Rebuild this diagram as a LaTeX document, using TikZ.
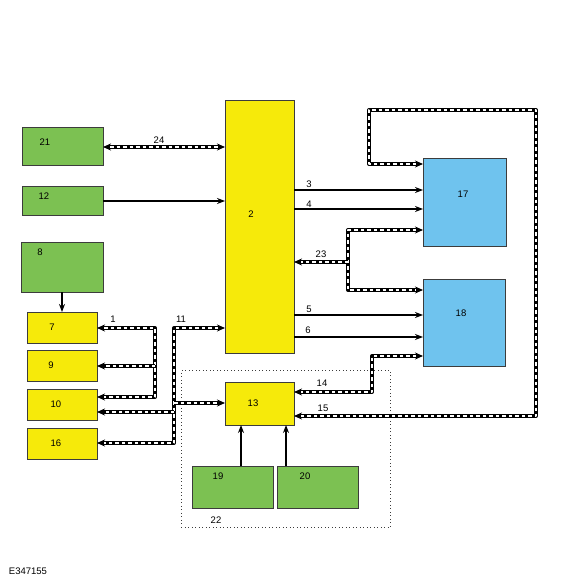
\documentclass[tikz,border=0pt]{standalone}
\usepackage{fontspec}
\setmainfont{Liberation Sans}
\usetikzlibrary{arrows.meta}
\definecolor{boxgreen}{HTML}{7CC152}
\definecolor{boxyellow}{HTML}{F6EA0A}
\definecolor{boxblue}{HTML}{6FC3EE}
\definecolor{boxline}{HTML}{3C3C3C}

\begin{document}
\begin{tikzpicture}[x=1pt,y=-1pt,
  blk/.style={draw=boxline, line width=0.9pt, anchor=north west, inner sep=0pt, outer sep=0pt},
  gblk/.style={blk, fill=boxgreen},
  yblk/.style={blk, fill=boxyellow},
  bblk/.style={blk, fill=boxblue},
  num/.style={font=\fontsize{9.5}{11}\selectfont, inner sep=0pt},
  sig/.style={line width=1.8pt, -{Stealth[length=8pt,width=6pt]}},
  bus/.style={line width=4pt, line join=round, {Stealth[length=8pt,width=7pt]}-{Stealth[length=8pt,width=7pt]},
    postaction={draw=white, line width=1.4pt, dash pattern=on 3.5pt off 3pt, -, shorten <=7pt, shorten >=7pt}},
  busto/.style={line width=4pt, line join=round, -{Stealth[length=8pt,width=7pt]},
    postaction={draw=white, line width=1.4pt, dash pattern=on 3.5pt off 3pt, -, shorten >=7pt}}]
\useasboundingbox (0,0) rectangle (580,580);

\node[draw=boxline, line width=0.9pt, dash pattern=on 0.9pt off 2.6pt, anchor=north west, inner sep=0pt,
  minimum width=209pt, minimum height=157pt] (b22) at (181,370) {};

\node[gblk, minimum width=81pt, minimum height=38pt] (b21) at (22,127) {};
\node[gblk, minimum width=81pt, minimum height=29pt] (b12) at (22,186) {};
\node[gblk, minimum width=82pt, minimum height=50pt] (b8) at (21,242) {};
\node[yblk, minimum width=70pt, minimum height=31pt] (b7) at (27,312) {};
\node[yblk, minimum width=70pt, minimum height=31pt] (b9) at (27,350) {};
\node[yblk, minimum width=70pt, minimum height=31pt] (b10) at (27,389) {};
\node[yblk, minimum width=70pt, minimum height=31pt] (b16) at (27,428) {};
\node[yblk, minimum width=69pt, minimum height=253pt] (b2) at (225,100) {};
\node[yblk, minimum width=69pt, minimum height=43pt] (b13) at (225,382) {};
\node[bblk, minimum width=83pt, minimum height=88pt] (b17) at (423,158) {};
\node[bblk, minimum width=82pt, minimum height=87pt] (b18) at (423,279) {};
\node[gblk, minimum width=81pt, minimum height=42pt] (b19) at (192,466) {};
\node[gblk, minimum width=81pt, minimum height=42pt] (b20) at (277,466) {};

\node[num] (t21) at (45,142) {21};
\node[num] (t12) at (44,196) {12};
\node[num] (t8) at (40,252) {8};
\node[num] (t7) at (52,327) {7};
\node[num] (t9) at (51,365) {9};
\node[num] (t10) at (56,404) {10};
\node[num] (t16) at (56,443) {16};
\node[num] (t2) at (251,214) {2};
\node[num] (t13) at (253,403) {13};
\node[num] (t17) at (463,194) {17};
\node[num] (t18) at (461,313) {18};
\node[num] (t19) at (218,476) {19};
\node[num] (t20) at (305,476) {20};
\node[num] (t22) at (216,520) {22};

\draw[sig] (b12.east |- 0,201) -- (b2.west |- 0,201);
\draw[sig] (b2.east |- 0,190) -- (b17.west |- 0,190);
\draw[sig] (b2.east |- 0,209) -- (b17.west |- 0,209);
\draw[sig] (b2.east |- 0,315) -- (b18.west |- 0,315);
\draw[sig] (b2.east |- 0,337) -- (b18.west |- 0,337);
\draw[sig] (b8.south) -- (b7.north);
\draw[sig] (b19.north -| 241,0) -- (b13.south -| 241,0);
\draw[sig] (b20.north -| 286,0) -- (b13.south -| 286,0);

\draw[bus] (b21.east |- 0,147) -- (b2.west |- 0,147);
\draw[bus] (b7.east |- 0,328) -| (155,397) -- (b10.east |- 0,397);
\coordinate (j9) at (155,366);
\draw[busto] (j9) -- (b9.east |- j9);
\draw[bus] (b2.west |- 0,328) -| (174,443) -- (b16.east |- 0,443);
\coordinate (j13) at (174,403);
\coordinate (j10) at (174,412);
\draw[busto] (j13) -- (b13.west |- j13);
\draw[busto] (j10) -- (b10.east |- j10);
\draw[bus] (b17.west |- 0,164) -| (369,110) -| (536,416) -- (b13.east |- 0,416);
\draw[bus] (b17.west |- 0,230) -| (348,290) -- (b18.west |- 0,290);
\coordinate (j2) at (348,262);
\draw[busto] (j2) -- (b2.east |- j2);
\draw[bus] (b18.west |- 0,356) -| (372,392) -- (b13.east |- 0,392);

\node[num] (n24) at (159,140) {24};
\node[num] (n3) at (309,184) {3};
\node[num] (n4) at (309,204) {4};
\node[num] (n23) at (321,254) {23};
\node[num] (n5) at (309,309) {5};
\node[num] (n6) at (308,330) {6};
\node[num] (n14) at (322,383) {14};
\node[num] (n15) at (323,408) {15};
\node[num] (n1) at (113,319) {1};
\node[num] (n11) at (181,319) {11};
\node[num] (fig) at (28,571) {E347155};
\end{tikzpicture}
\end{document}
